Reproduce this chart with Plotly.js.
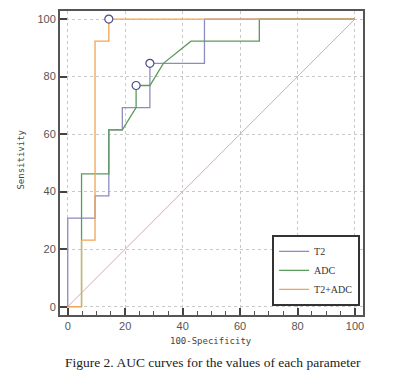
<!DOCTYPE html>
<html>
<head>
<meta charset="utf-8">
<script src="https://cdn.plot.ly/plotly-3.0.1.min.js"></script>
<style>
  body { margin: 0; background: #fff; }
  #chart { width: 400px; height: 389px; }
</style>
</head>
<body>
<div id="chart"></div>
<script>
// ROC curves (100-Specificity vs Sensitivity)
var t2X  = [0, 0, 9.5, 9.5, 14.3, 14.3, 19.0, 19.0, 28.6, 28.6, 47.6, 47.6, 100];
var t2Y  = [0, 30.8, 30.8, 38.5, 38.5, 61.5, 61.5, 69.2, 69.2, 84.6, 84.6, 100, 100];

var adcX = [0, 4.8, 4.8, 14.3, 14.3, 19.0, 23.8, 23.8, 28.6, 33.3, 42.9, 66.7, 66.7, 100];
var adcY = [0, 0, 46.2, 46.2, 61.5, 61.5, 69.2, 76.9, 76.9, 84.6, 92.3, 92.3, 100, 100];

var bothX = [0, 4.8, 4.8, 9.5, 9.5, 14.3, 14.3, 100];
var bothY = [0, 0, 23.1, 23.1, 92.3, 92.3, 100, 100];

// optimal cut-off points (open circles)
var cutX = [28.6, 23.8, 14.3];
var cutY = [84.6, 76.9, 100];

// chance line
var refX = [0, 100];
var refY = [0, 100];

var names  = ['T2', 'ADC', 'T2+ADC'];
var colors = ['#8c8cc0', '#5a9a5a', '#f0a655'];

var data = [
    { x: refX, y: refY, mode: 'lines', line: { color: '#dc9aa6', width: 0.9 },
      showlegend: false, hoverinfo: 'skip' },
    { x: t2X, y: t2Y, mode: 'lines', name: names[0], line: { color: colors[0], width: 1.3 } },
    { x: adcX, y: adcY, mode: 'lines', name: names[1], line: { color: colors[1], width: 1.3 } },
    { x: bothX, y: bothY, mode: 'lines', name: names[2], line: { color: colors[2], width: 1.3 } },
    { x: cutX, y: cutY, mode: 'markers', showlegend: false,
      marker: { symbol: 'circle', size: 8, color: '#fff', line: { color: '#4a4a88', width: 1.2 } } }
];

var axisBase = {
    showline: true, mirror: true, linewidth: 2, linecolor: '#555',
    ticks: 'inside', ticklen: 7, tickwidth: 2, tickcolor: '#444',
    showgrid: true, gridcolor: '#c8c8c8', griddash: 'dot', gridwidth: 1,
    zeroline: false, dtick: 20, tick0: 0,
    tickfont: { family: 'Liberation Sans, Arial, sans-serif', size: 11, color: '#555' }
};

var layout = {
    width: 400,
    height: 389,
    margin: { l: 60, r: 37, t: 11, b: 74 },
    paper_bgcolor: '#fff',
    plot_bgcolor: '#fff',
    xaxis: Object.assign({}, axisBase, {
        range: [-2.7, 102.8],
        minor: { ticks: 'inside', dtick: 5, ticklen: 4, tickwidth: 1, tickcolor: '#555', showgrid: false }
    }),
    yaxis: Object.assign({}, axisBase, {
        range: [-2.9, 102.8]
    }),
    legend: {
        x: 0.70, y: 0.03, xanchor: 'left', yanchor: 'bottom',
        bgcolor: '#fff', bordercolor: '#333', borderwidth: 2,
        font: { family: 'Liberation Serif, serif', size: 10, color: '#333' },
        tracegroupgap: 0, itemwidth: 30
    },
    annotations: [
        { text: '100-Specificity', xref: 'paper', yref: 'paper', x: 0.498, y: -0.085,
          xanchor: 'center', yanchor: 'middle', showarrow: false,
          font: { family: 'DejaVu Sans Mono, monospace', size: 9, color: '#444' } },
        { text: 'Sensitivity', xref: 'paper', yref: 'paper', x: -0.13, y: 0.51,
          xanchor: 'center', yanchor: 'middle', showarrow: false, textangle: -90,
          font: { family: 'DejaVu Sans Mono, monospace', size: 9, color: '#444' } },
        { text: 'Figure 2. AUC curves for the values of each parameter', xref: 'paper', yref: 'paper',
          x: 0.505, y: -0.155, xanchor: 'center', yanchor: 'middle', showarrow: false,
          font: { family: 'Liberation Serif, Times New Roman, serif', size: 13.5, color: '#222' } }
    ]
};

Plotly.newPlot('chart', data, layout, { displayModeBar: false, staticPlot: true });
</script>
</body>
</html>
